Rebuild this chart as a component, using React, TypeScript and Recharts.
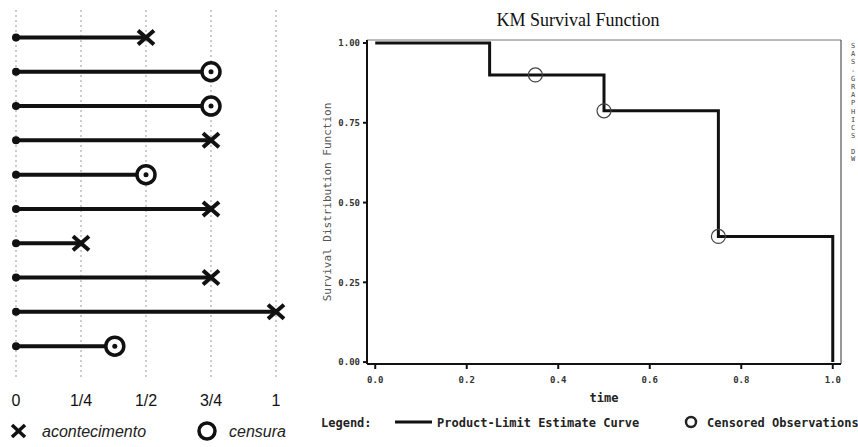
import React from 'react';
import {
  ScatterChart, Scatter, ComposedChart, Line, XAxis, YAxis, CartesianGrid, Label, ReferenceLine,
} from 'recharts';

// lifeline plot (left)
const lifeEnd = [0.5, 0.75, 0.75, 0.75, 0.5, 0.75, 0.25, 0.75, 1.0, 0.38];
const lifeStatus = ['event', 'censored', 'censored', 'event', 'censored', 'event', 'event', 'event', 'event', 'censored'];
const lifeTicks = [0, 0.25, 0.5, 0.75, 1];
const lifeTickLabels = ['0', '1/4', '1/2', '3/4', '1'];

// KM curve (right)
const kmTime = [0, 0.25, 0.5, 0.75, 1.0];
const kmSurv = [1, 0.9, 0.7875, 0.39375, 0];
const censTime = [0.35, 0.5, 0.75];
const censSurv = [0.9, 0.7875, 0.39375];
const kmXTicks = [0, 0.2, 0.4, 0.6, 0.8, 1.0];
const kmYTicks = [0, 0.25, 0.5, 0.75, 1];
const sideText = ['S', 'A', 'S', '-', 'G', 'R', 'A', 'P', 'H', 'I', 'C', 'S'];

const KM_X_DOMAIN = [-0.018, 1.018];
const KM_Y_DOMAIN = [-0.006, 1.0095];

const MONO = '"DejaVu Sans Mono", "Liberation Mono", monospace';

const lifeRows = lifeEnd.map((end, i) => [
  { t: 0, row: i + 1, kind: 'start' },
  { t: end, row: i + 1, kind: lifeStatus[i] },
]);

const kmData = kmTime.map((t, i) => ({ t, s: kmSurv[i] }));
const censData = censTime.map((t, i) => ({ t, s: censSurv[i] }));

const LifeMarker = (props: any) => {
  const { cx, cy, payload } = props;
  if (payload.kind === 'start') return <circle cx={cx} cy={cy} r={4} fill="#111" />;
  if (payload.kind === 'event') {
    return (
      <g stroke="#111" strokeWidth={4} strokeLinecap="butt">
        <line x1={cx - 8} y1={cy - 7} x2={cx + 8} y2={cy + 7} />
        <line x1={cx - 8} y1={cy + 7} x2={cx + 8} y2={cy - 7} />
      </g>
    );
  }
  return (
    <g>
      <circle cx={cx} cy={cy} r={9} fill="#fff" stroke="#111" strokeWidth={3.5} />
      <circle cx={cx} cy={cy} r={2.5} fill="#111" />
    </g>
  );
};

const CensCircle = (props: any) => (
  <circle cx={props.cx} cy={props.cy} r={7} fill="none" stroke="#444" strokeWidth={1.2} />
);

export default function App() {
  return (
    <div style={{ position: 'absolute', left: 0, top: 0, width: 858, height: 447, background: '#fff', overflow: 'hidden' }}>
      <div style={{ position: 'absolute', left: 0, top: 0 }}>
        <ScatterChart width={300} height={447} margin={{ top: 10, right: 24, bottom: 40, left: 16 }}>
          <CartesianGrid horizontal={false} stroke="#999" strokeDasharray="2 3" />
          <XAxis
            type="number"
            dataKey="t"
            domain={[0, 1]}
            ticks={lifeTicks}
            tickFormatter={(v: number) => lifeTickLabels[lifeTicks.indexOf(v)]}
            axisLine={false}
            tickLine={false}
            height={30}
            tickMargin={12}
            tick={{ fontSize: 16, fill: '#111', fontFamily: '"Liberation Sans Narrow", "Liberation Sans", sans-serif' }}
          />
          <YAxis type="number" dataKey="row" domain={[0.2, 10.9]} reversed hide allowDataOverflow />
          {lifeRows.map((d, i) => (
            <Scatter
              key={i}
              data={d}
              line={{ stroke: '#111', strokeWidth: 4 }}
              shape={LifeMarker}
              isAnimationActive={false}
            />
          ))}
        </ScatterChart>
      </div>

      <svg style={{ position: 'absolute', left: 0, top: 416 }} width={300} height={32}>
        <g stroke="#111" strokeWidth={3.5}>
          <line x1={12} y1={9} x2={25} y2={21} />
          <line x1={12} y1={21} x2={25} y2={9} />
        </g>
        <text x={42} y={21} fontSize={16} fontStyle="italic" fontFamily='"Liberation Sans", sans-serif' fill="#222">acontecimento</text>
        <circle cx={207} cy={15} r={8} fill="none" stroke="#111" strokeWidth={3.5} />
        <text x={229} y={21} fontSize={16} fontStyle="italic" fontFamily='"Liberation Sans", sans-serif' fill="#222">censura</text>
      </svg>

      <div style={{ position: 'absolute', left: 478, top: 10, width: 200, textAlign: 'center', fontFamily: '"Liberation Serif", "Times New Roman", serif', fontSize: 18, lineHeight: '20px', color: '#111' }}>
        KM Survival Function
      </div>

      <div style={{ position: 'absolute', left: 300, top: 0 }}>
        <ComposedChart width={558} height={447} margin={{ top: 40, right: 17, bottom: 58, left: 27 }}>
          <XAxis
            type="number"
            dataKey="t"
            domain={KM_X_DOMAIN}
            ticks={kmXTicks}
            allowDataOverflow
            tickFormatter={(v: number) => v.toFixed(1)}
            height={25}
            stroke="#111"
            strokeWidth={2}
            tickSize={5}
            tickMargin={8}
            tick={{ fontSize: 9, fontWeight: 'bold', fill: '#333', fontFamily: MONO }}
          >
            <Label value="time" position="bottom" offset={4} style={{ fontSize: 12, fontWeight: 'bold', fill: '#222', fontFamily: MONO }} />
          </XAxis>
          <YAxis
            type="number"
            dataKey="s"
            domain={KM_Y_DOMAIN}
            ticks={kmYTicks}
            allowDataOverflow
            tickFormatter={(v: number) => v.toFixed(2)}
            width={40}
            stroke="#111"
            strokeWidth={2}
            tickSize={4}
            tickMargin={3}
            tick={{ fontSize: 9, fontWeight: 'bold', fill: '#333', fontFamily: MONO }}
          >
            <Label
              value="Survival Distribution Function"
              angle={-90}
              position="insideLeft"
              offset={0}
              style={{ textAnchor: 'middle', fontSize: 11, fill: '#555', fontFamily: MONO }}
            />
          </YAxis>
          {/* frame: top and right edges of the plot box */}
          <ReferenceLine y={KM_Y_DOMAIN[1]} stroke="#777" strokeWidth={1} />
          <ReferenceLine x={KM_X_DOMAIN[1]} stroke="#333" strokeWidth={1} />
          <Line
            data={kmData}
            dataKey="s"
            type="stepAfter"
            stroke="#111"
            strokeWidth={3}
            dot={false}
            activeDot={false}
            isAnimationActive={false}
          />
          <Scatter data={censData} dataKey="s" shape={CensCircle} isAnimationActive={false} />
        </ComposedChart>
      </div>

      <svg style={{ position: 'absolute', left: 300, top: 410 }} width={558} height={26}>
        <g fontFamily={MONO} fontSize={12} fontWeight="bold" fill="#222">
          <text x={21} y={17}>Legend:</text>
          <line x1={95} y1={12} x2={132} y2={12} stroke="#111" strokeWidth={3} />
          <text x={137} y={17}>Product-Limit Estimate Curve</text>
          <circle cx={391} cy={12} r={5} fill="none" stroke="#222" strokeWidth={2.5} />
          <text x={407} y={17}>Censored Observations</text>
        </g>
      </svg>

      <svg style={{ position: 'absolute', left: 848, top: 40 }} width={10} height={130}>
        <g fontFamily={MONO} fontSize={7} fill="#444" textAnchor="middle">
          {sideText.map((ch, i) => (
            <text key={i} x={5} y={8 + i * 8.2}>{ch}</text>
          ))}
          <text x={5} y={114}>D</text>
          <text x={5} y={121}>W</text>
        </g>
      </svg>
    </div>
  );
}
